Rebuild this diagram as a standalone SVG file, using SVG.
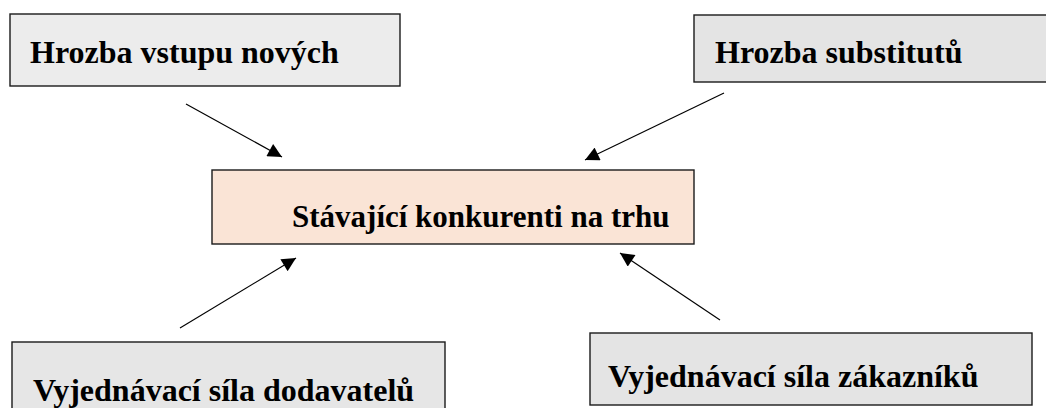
<svg xmlns="http://www.w3.org/2000/svg" width="1046" height="408" viewBox="0 0 1046 408">
<style>
.box{stroke:#1a1a1a;stroke-width:1.4}
.lbl{font-family:"Liberation Serif","Times New Roman",serif;font-weight:bold;font-size:32px;fill:#000}
.con{stroke:#000;stroke-width:1.2;fill:none;marker-end:url(#ah)}
</style>
<defs>
<marker id="ah" viewBox="0 0 10 10" refX="10" refY="5" markerWidth="15" markerHeight="14" markerUnits="userSpaceOnUse" orient="auto">
<path d="M0,0 L10,5 L0,10 z" fill="#000"/>
</marker>
</defs>
<rect width="1046" height="408" fill="#fff"/>
<g id="n1"><rect class="box" x="10" y="14" width="390" height="72" fill="#ececec"/><text class="lbl" x="30" y="63">Hrozba vstupu nových</text></g>
<g id="n2"><rect class="box" x="694" y="15" width="360" height="67" fill="#e4e4e4"/><text class="lbl" x="715" y="63">Hrozba substitutů</text></g>
<g id="n3"><rect class="box" x="212" y="170" width="482" height="74" fill="#fae4d6"/><text class="lbl" x="292" y="227" style="font-size:31px">Stávající konkurenti na trhu</text></g>
<g id="n4"><rect class="box" x="12" y="342" width="433" height="80" fill="#e6e6e6"/><text class="lbl" x="33" y="401">Vyjednávací síla dodavatelů</text></g>
<g id="n5"><rect class="box" x="590" y="333" width="442" height="72" fill="#e4e4e4"/><text class="lbl" x="608" y="387">Vyjednávací síla zákazníků</text></g>
<g id="connectors">
<line class="con" x1="186" y1="104" x2="282" y2="157"/>
<line class="con" x1="724" y1="93" x2="585" y2="160"/>
<line class="con" x1="180" y1="328" x2="296" y2="258"/>
<line class="con" x1="720" y1="320" x2="620" y2="253"/>
</g>
</svg>
